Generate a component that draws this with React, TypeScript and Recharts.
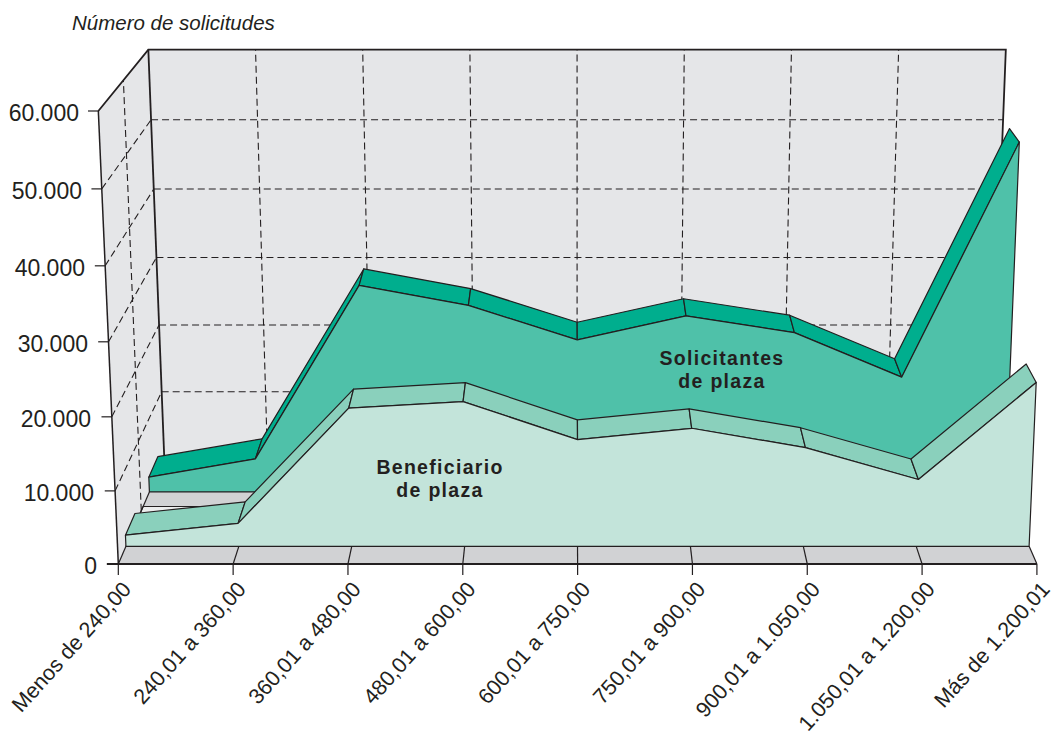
import { ComposedChart, Line, XAxis, YAxis } from 'recharts'

const categories = ['Menos de 240,00', '240,01 a 360,00', '360,01 a 480,00', '480,01 a 600,00', '600,01 a 750,00',
  '750,01 a 900,00', '900,01 a 1.050,00', '1.050,01 a 1.200,00', 'Más de 1.200,01']
const beneficiarios = [1560, 3210, 19100, 20000, 14800, 16350, 13700, 9300, 22600]
const solicitantes = [2180, 4860, 29900, 27050, 22130, 25560, 23160, 16760, 50000]
const yTicks = [0, 10000, 20000, 30000, 40000, 50000, 60000]
const xTicks = [0, 1, 2, 3, 4, 5, 6, 7, 8]

const INK = '#231f20'
const WALL = '#e5e6e8'
const FLOOR = '#d1d2d4'
const YMAX = 60000

// depth of each slab in the box, 0 = front edge, 1 = back wall
const BEN_T = [0.166, 0.372]
const SOL_T = [0.677, 0.872]

// the vertical axis stretches a little towards the top of the picture
const warp = (v: number) => v * (0.962 + (0.038 * v) / YMAX)

// perspective: a point at category i, value v, depth t, in axis units
const at = (i: number, v: number, t: number) => {
  const left = 0.4 * t
  const right = 8 - 0.409 * t
  const x0 = left + (i / 8) * (right - left)
  const h = warp(v)
  return {
    x: x0 + (x0 - 4) * (0.0435 - 0.005 * t) * (h / YMAX),
    y: 14100 * t + h * (1 - 0.0995 * t),
  }
}

type Pt = { x: number; y: number }
type Look = { fill?: string; stroke?: string; width?: number; dash?: string }

// one Line per shape, its dots collect the scaled points and the last one draws them
function shape(key: string, rows: Pt[], look: Look) {
  const pts: string[] = []
  const dot = (p: any) => {
    pts[p.index] = `${p.cx},${p.cy}`
    if (p.index < rows.length - 1) return <g key={p.index} />
    return look.fill ? (
      <polygon key={p.index} points={pts.join(' ')} fill={look.fill} stroke={look.stroke ?? 'none'}
        strokeWidth={look.width ?? 1.2} strokeLinejoin='round' />
    ) : (
      <polyline key={p.index} points={pts.join(' ')} fill='none' stroke={look.stroke ?? INK}
        strokeWidth={look.width ?? 1.2} strokeDasharray={look.dash} />
    )
  }
  return (
    <Line key={key} data={rows} dataKey='y' stroke='none' dot={dot} activeDot={false}
      legendType='none' isAnimationActive={false} />
  )
}

function slab(name: string, values: number[], [t0, t1]: number[], face: string, top: string) {
  const out = []
  for (let i = 0; i < values.length - 1; i++) {
    out.push(shape(`${name}-top-${i}`, [
      at(i, values[i], t0), at(i + 1, values[i + 1], t0),
      at(i + 1, values[i + 1], t1), at(i, values[i], t1),
    ], { fill: top, stroke: INK }))
  }
  out.push(shape(`${name}-face`, [
    at(0, 0, t0), ...values.map((v, i) => at(i, v, t0)), at(8, 0, t0),
  ], { fill: face, stroke: INK }))
  return out
}

const gridV = xTicks.slice(1, 8)
const gridH = yTicks.slice(1, 6)
const dashed = { dash: '7 4', width: 1.1 }

const yTick = (p: any) => {
  const v = p.payload.value
  return (
    <text key={v} x={97 - (v / YMAX) * 18} y={p.y + ((v - warp(v)) * 7.55) / 1000 + 2} dy='0.36em' textAnchor='end'
      fontSize={23} fill={INK} fontFamily='Liberation Sans'>
      {v === 0 ? '0' : v.toLocaleString('de-DE')}
    </text>
  )
}

const xTick = (p: any) => (
  <text key={p.payload.value} x={p.x + 14} y={p.y + 13} textAnchor='end' fontSize={21.5} fill={INK}
    fontFamily='Liberation Sans' transform={`rotate(-48 ${p.x + 14} ${p.y + 13})`}>
    {categories[p.payload.value]}
  </text>
)

const note = (text: string, left: number, top: number, width: number) => (
  <div style={{
    position: 'absolute', left, top, width, textAlign: 'center', whiteSpace: 'pre-line',
    fontFamily: 'Liberation Sans', fontWeight: 700, fontSize: 19.5, lineHeight: '23px',
    letterSpacing: 1.3, color: INK,
  }}>{text}</div>
)

export default function App() {
  return (
    <div style={{ position: 'absolute', left: 0, top: 0, width: 1055, height: 743, background: '#fff', overflow: 'hidden' }}>
      <ComposedChart width={1055} height={743} margin={{ top: 10, right: 5, bottom: 79, left: 0 }}>
        <XAxis type='number' dataKey='x' domain={[-0.2437, 8.114]} ticks={xTicks} interval={0} height={100}
          axisLine={false} tickSize={11} tickLine={{ stroke: INK, strokeWidth: 1.2 }} tick={xTick} />
        <YAxis type='number' domain={[0, 73377]} ticks={yTicks} interval={0} width={88}
          axisLine={false} tickLine={false} tick={yTick} />

        {/* box: floor and walls */}
        {shape('floor', [at(0, 0, 0), at(8, 0, 0), at(8, 0, 1), at(0, 0, 1)], { fill: FLOOR })}
        {shape('back', [at(0, 0, 1), at(8, 0, 1), at(8, YMAX, 1), at(0, YMAX, 1)], { fill: WALL })}
        {shape('side', [at(0, 0, 0), at(0, 0, 1), at(0, YMAX, 1), at(0, YMAX, 0)], { fill: WALL })}

        {gridH.map((v) => shape(`h-${v}`, [at(0, v, 1), at(8, v, 1)], dashed))}
        {gridV.map((i) => shape(`v-${i}`, [at(i, 0, 1), at(i, YMAX, 1)], dashed))}
        {gridH.map((v) => shape(`d-${v}`, [at(0, v, 0), at(0, v, 1)], dashed))}
        {shape('side-mid', [at(0, 0, 0.5), at(0, YMAX, 0.5)], dashed)}

        {shape('edge-top', [at(0, YMAX, 0), at(0, YMAX, 1), at(8, YMAX, 1), at(8, 0, 1)], { width: 1.8 })}
        {shape('edge-back', [at(0, YMAX, 1), at(0, 0, 1)], { width: 1.8 })}
        {shape('edge-front', [at(0, YMAX, 0), at(0, 0, 0)], { width: 1.5 })}

        {slab('sol', solicitantes, SOL_T, '#4fc1a9', '#00ae8e')}
        {shape('floor-gap', [at(0, 0, 0.372), at(1, 0, 0.372), at(1, 0, 0.54), at(0, 0, 0.54)], { fill: '#eceded', stroke: INK })}
        {shape('floor-left', [at(0, 0, 0), at(0, 0, SOL_T[0])], {})}
        {slab('ben', beneficiarios, BEN_T, '#c3e4da', '#8ad0bc')}

        {xTicks.slice(1, 8).map((i) => shape(`floor-tick-${i}`, [at(i, 0, 0), at(i, 0, BEN_T[0])], {}))}
        {shape('floor-right', [at(8, 0, 0), at(8, 0, BEN_T[0])], {})}
        {yTicks.slice(1).map((v) => {
          const a = at(0, v, 0)
          return shape(`y-tick-${v}`, [{ x: a.x - 0.09, y: a.y }, a], {})
        })}
        {shape('axis', [{ x: -0.1, y: 0 }, { x: 8, y: 0 }], { width: 2 })}
      </ComposedChart>

      <div style={{ position: 'absolute', left: 72, top: 11, fontFamily: 'Liberation Sans', fontStyle: 'italic', fontSize: 20.5, color: INK }}>
        Número de solicitudes
      </div>
      {note('Beneficiario\nde plaza', 340, 456, 200)}
      {note('Solicitantes\nde plaza', 622, 347, 200)}
    </div>
  )
}
